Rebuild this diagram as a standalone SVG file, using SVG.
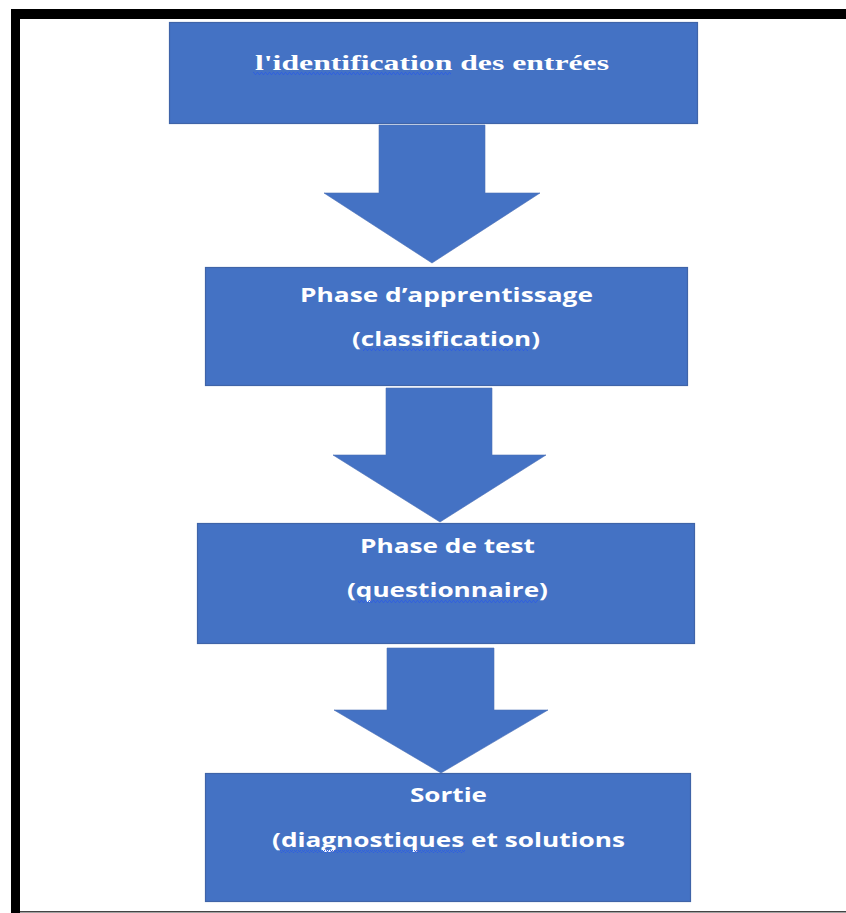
<svg xmlns="http://www.w3.org/2000/svg" width="846" height="913" viewBox="0 0 846 913">
  <defs>
    <style>
      .box { fill: #4472C4; stroke: #3f64a8; stroke-width: 1.2; }
      .arrow { fill: #4472C4; stroke: #4a6fb5; stroke-width: 0.6; }
      .lbl { fill: #ffffff; font-family: "Open Sans", "Noto Sans", "DejaVu Sans", sans-serif; font-weight: bold; font-size: 19px; text-anchor: middle; }
      .lbl-serif { fill: #ffffff; font-family: "Liberation Serif", "DejaVu Serif", serif; font-weight: bold; font-size: 22px; text-anchor: middle; }
      .squiggle { fill: url(#wave); }
    </style>
    <!-- spell-check wave underline -->
    <pattern id="wave" x="0" y="0" width="4" height="3" patternUnits="userSpaceOnUse">
      <polyline points="0,2.5 1,0.5 2,0.5 3,2.5 4,2.5" fill="none" stroke="#2f5fe0" stroke-width="0.9"/>
    </pattern>
  </defs>

  <rect x="0" y="0" width="846" height="913" fill="#ffffff"/>

  <!-- page frame -->
  <rect x="11" y="9" width="835" height="10" fill="#000000"/>
  <rect x="11" y="9" width="9" height="904" fill="#000000"/>
  <rect x="20" y="911" width="826" height="1.5" fill="#444444"/>

  <g id="connectors">
    <polygon class="arrow" points="379,125 485,125 485,193 540,193 432,263 324,193 379,193"/>
    <polygon class="arrow" points="386,388 492,388 492,455 546,455 440,522 333,455 386,455"/>
    <polygon class="arrow" points="387,648 494,648 494,710 548,710 441,773 334,710 387,710"/>
  </g>

  <g id="node-entrees">
    <rect class="box" x="169.5" y="22.5" width="528" height="101"/>
    <text class="lbl-serif" x="432" y="70" textLength="354" lengthAdjust="spacingAndGlyphs">l'identification des entrées</text>
    <rect class="squiggle" x="253" y="72" width="198" height="3"/>
  </g>

  <g id="node-apprentissage">
    <rect class="box" x="205.5" y="267.5" width="482" height="118"/>
    <text class="lbl" x="446.5" y="302" textLength="293" lengthAdjust="spacingAndGlyphs">Phase d’apprentissage</text>
    <text class="lbl" x="446" y="346" textLength="188" lengthAdjust="spacingAndGlyphs">(classification)</text>
    <rect class="squiggle" x="363" y="348" width="165" height="3"/>
  </g>

  <g id="node-test">
    <rect class="box" x="197.5" y="523.5" width="497" height="120"/>
    <text class="lbl" x="447.5" y="553" textLength="175" lengthAdjust="spacingAndGlyphs">Phase de test</text>
    <text class="lbl" x="447.5" y="597" textLength="201" lengthAdjust="spacingAndGlyphs">(questionnaire)</text>
    <rect class="squiggle" x="358" y="600" width="180" height="3"/>
  </g>

  <g id="node-sortie">
    <rect class="box" x="205.5" y="773.5" width="485" height="128"/>
    <text class="lbl" x="448.5" y="802" textLength="77" lengthAdjust="spacingAndGlyphs">Sortie</text>
    <text class="lbl" x="448.5" y="847" textLength="353" lengthAdjust="spacingAndGlyphs">(diagnostiques et solutions</text>
    <rect class="squiggle" x="280" y="850" width="185" height="3"/>
  </g>
</svg>
